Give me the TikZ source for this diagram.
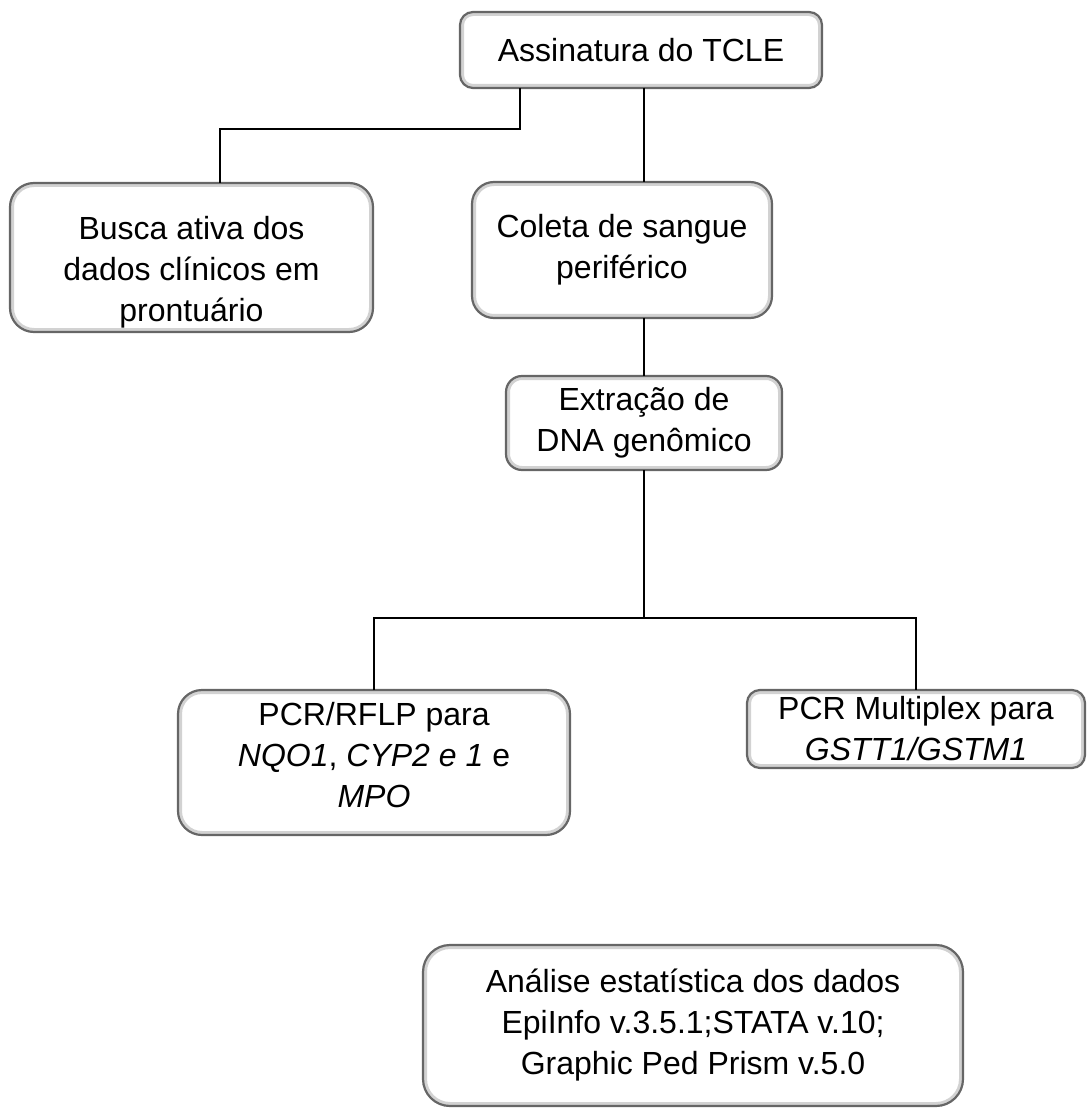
\documentclass[tikz,border=0pt]{standalone}
\usepackage{fontspec}
\setmainfont{Liberation Sans}
\usetikzlibrary{calc, positioning}

\tikzset{
  stepbox/.style={draw=gray!80!black, line width=1.1pt, rounded corners=#1,
    align=center, inner sep=2pt, outer sep=0pt,
    font=\fontsize{16}{20.5}\selectfont,
    path picture={\draw[gray!35, line width=4pt, rounded corners=#1]
      (path picture bounding box.south west) rectangle (path picture bounding box.north east);}},
  link/.style={draw=black, line width=0.8pt},
}

\begin{document}
\begin{tikzpicture}[x=0.5pt, y=-0.5pt]
\useasboundingbox (0,0) rectangle (1086,1117);

% boxes
\node[stepbox=6.5pt, minimum width=181pt, minimum height=38pt] (tcle) at (641,50) {Assinatura do TCLE};
\node[stepbox=12pt, minimum width=181.5pt, minimum height=74.5pt] (busca) at (191.5,257.5)
  {\rule{0pt}{26pt}Busca ativa dos\\dados clínicos em\\prontuário};
\node[stepbox=11pt, minimum width=150pt, minimum height=68pt] (coleta) at (622,250)
  {Coleta de sangue\\periférico};
\node[stepbox=8pt, minimum width=138pt, minimum height=47pt] (extr) at (644,423)
  {Extração de\\DNA genômico};
\node[stepbox=12pt, minimum width=196pt, minimum height=72.5pt] (rflp) at (374,762.5)
  {PCR/RFLP para\\\textit{NQO1}, \textit{CYP2 e 1} e\\\textit{MPO}\rule[-8pt]{0pt}{0pt}};
\node[stepbox=6.5pt, minimum width=169pt, minimum height=39pt] (multi) at (916,729)
  {PCR Multiplex para\\\textit{GSTT1/GSTM1}};
\node[stepbox=13.5pt, minimum width=270pt, minimum height=80.5pt] (analise) at (693,1025.5)
  {Análise estatística dos dados\\EpiInfo v.3.5.1;STATA v.10;\\Graphic Ped Prism v.5.0};

% connectors
\coordinate (jtop) at (520,129);
\coordinate (jleft) at (220,129);
\coordinate (split) at (644,618);

\draw[link] (tcle.south -| jtop) -- (jtop) -- (jleft) -- (busca.north -| jleft);
\draw[link] (tcle.south -| extr.north) -- (coleta.north -| extr.north);
\draw[link] (coleta.south -| extr.north) -- (extr.north);
\draw[link] (extr.south) -- (split);
\draw[link] (rflp.north) |- (split) -| (multi.north);
\end{tikzpicture}
\end{document}
